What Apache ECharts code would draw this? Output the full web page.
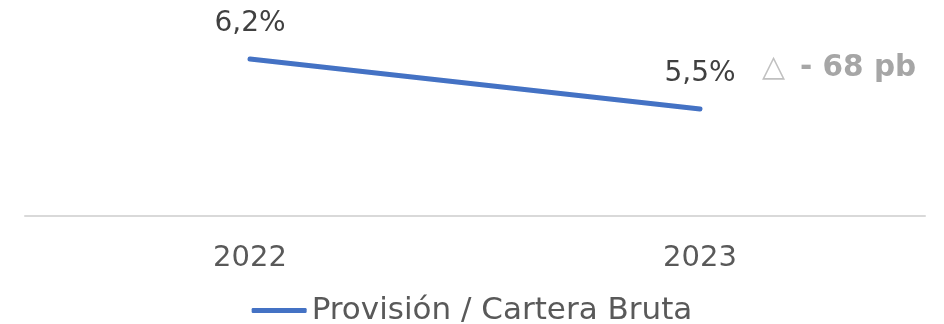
<!DOCTYPE html>
<html>
<head>
<meta charset="utf-8">
<script src="https://cdn.jsdelivr.net/npm/echarts@6/dist/echarts.min.js"></script>
<style>
  html, body { margin: 0; padding: 0; background: #fff; }
  #chart { width: 944px; height: 324px; }
</style>
</head>
<body>
<div id="chart"></div>
<script>
const years = ['2022', '2023']
const provision = [6.2, 5.5]
const seriesName = 'Provisión / Cartera Bruta'
const deltaText = '- 68 pb'

const FONT = '"DejaVu Sans", sans-serif'

const chart = echarts.init(document.getElementById('chart'))

chart.setOption({
  animation: false,
  grid: { left: 25, right: 19, top: 2, bottom: 108 },
  legend: {
    data: [seriesName],
    bottom: -7,
    left: 'center',
    icon: 'roundRect',
    itemWidth: 55,
    itemHeight: 5,
    itemGap: 6,
    textStyle: { fontFamily: FONT, fontSize: 31, color: '#595959' },
  },
  xAxis: {
    type: 'category',
    data: years,
    axisLine: { lineStyle: { color: '#d9d9d9', width: 2 } },
    axisTick: { show: false },
    axisLabel: { fontFamily: FONT, fontSize: 29, color: '#595959', margin: 28 },
  },
  yAxis: {
    type: 'value',
    min: 4,
    max: 7,
    show: false,
    splitLine: { show: false },
  },
  graphic: [
    {
      type: 'text',
      left: 762,
      top: 53,
      style: {
        text: '{t|△}{s| }{b|' + deltaText + '}',
        rich: {
          t: { fontFamily: FONT, fontSize: 30, fill: '#c0c0c0' },
          s: { fontFamily: FONT, fontSize: 30, width: 15 },
          b: { fontFamily: FONT, fontSize: 29.5, fontWeight: 'bold', fill: '#a6a6a6' },
        },
      },
    },
  ],
  series: [
    {
      name: seriesName,
      type: 'line',
      data: provision,
      symbol: 'circle',
      symbolSize: 2,
      lineStyle: { color: '#4472c4', width: 5, cap: 'round' },
      itemStyle: { color: '#4472c4' },
      label: {
        show: true,
        position: 'top',
        distance: 20,
        fontFamily: FONT,
        fontSize: 28,
        color: '#404040',
        formatter: p => p.value.toFixed(1).replace('.', ',') + '%',
      },
    },
  ],
})
</script>
</body>
</html>
